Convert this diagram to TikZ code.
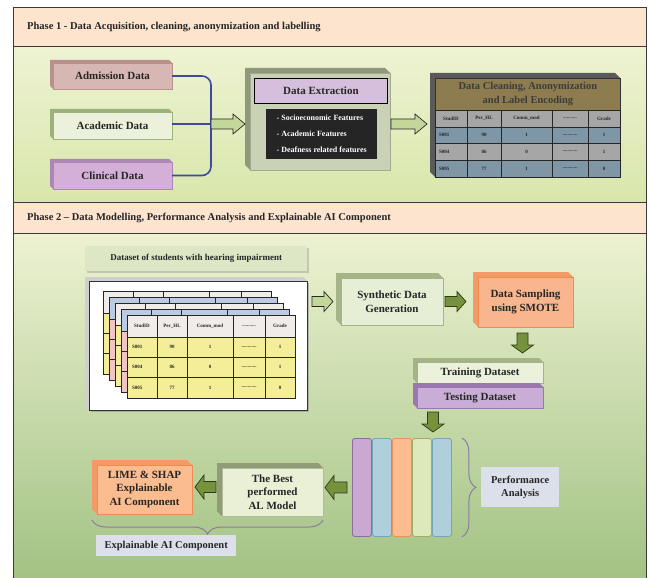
\documentclass[tikz,border=0pt]{standalone}
\usepackage{fontspec}
\setmainfont{Liberation Serif}
\usetikzlibrary{calc,decorations.pathreplacing,shadows}
\definecolor{hdr}{HTML}{FDE4CF}
\definecolor{framec}{HTML}{3A3A3A}
\definecolor{ponetop}{HTML}{EEF3D3}
\definecolor{ponebot}{HTML}{D8E6AA}
\definecolor{ptwotop}{HTML}{EDF2D2}
\definecolor{ptwobot}{HTML}{A2C283}
\definecolor{txt}{HTML}{262626}
\definecolor{admf}{HTML}{D7B7B3}
\definecolor{adms}{HTML}{B8918D}
\definecolor{acaf}{HTML}{ECF1DB}
\definecolor{acas}{HTML}{9DB17C}
\definecolor{clif}{HTML}{D4B0D8}
\definecolor{clis}{HTML}{AC86B4}
\definecolor{connblue}{HTML}{3F4A9E}
\definecolor{arrlight}{HTML}{C4D79B}
\definecolor{arrolive}{HTML}{76923C}
\definecolor{arrdark}{HTML}{2F3A18}
\definecolor{extf}{HTML}{CAD2B6}
\definecolor{exts}{HTML}{8E997C}
\definecolor{purpf}{HTML}{D5BFDC}
\definecolor{blackbox}{HTML}{252525}
\definecolor{tblgray}{HTML}{A6A6A6}
\definecolor{tblside}{HTML}{5A5A5A}
\definecolor{tblhead}{HTML}{8C7C4F}
\definecolor{tblblue}{HTML}{7F96A6}
\definecolor{dslbl}{HTML}{DDE7C5}
\definecolor{stackside}{HTML}{CFCFCF}
\definecolor{theadgray}{HTML}{EFECE9}
\definecolor{theadblue}{HTML}{BACBE2}
\definecolor{tyellow}{HTML}{F5EE99}
\definecolor{tpink}{HTML}{F2C5C4}
\definecolor{synf}{HTML}{E6EED5}
\definecolor{syns}{HTML}{A5B588}
\definecolor{smotef}{HTML}{F9B58D}
\definecolor{smotes}{HTML}{F39A66}
\definecolor{smoted}{HTML}{EE8B50}
\definecolor{trainf}{HTML}{ECF1DC}
\definecolor{trains}{HTML}{A3B487}
\definecolor{testf}{HTML}{C9ADD7}
\definecolor{tests}{HTML}{9A78AF}
\definecolor{barpurple}{HTML}{C9A9D2}
\definecolor{barpurpled}{HTML}{8F6D9F}
\definecolor{barblue}{HTML}{AFCFDC}
\definecolor{barblued}{HTML}{72A6BA}
\definecolor{barorange}{HTML}{FBBD8F}
\definecolor{barorangedk}{HTML}{EB9158}
\definecolor{bargreen}{HTML}{DDE9BA}
\definecolor{bargreend}{HTML}{9BAF6B}
\definecolor{bracecol}{HTML}{8B7CA4}
\definecolor{infobg}{HTML}{DCE0EA}
\definecolor{bestf}{HTML}{E9F0D6}
\definecolor{bests}{HTML}{8F9C74}

% cube box: #1 name, #2 x, #3 y, #4 w, #5 h, #6 depth, #7 face style, #8 side colour, #9 text
\newcommand{\cubebox}[9]{%
  \fill[#8] (#2,#3) -- ({#2+#4-#6},#3) -- ({#2+#4},{#3+#6}) -- ({#2+#6},{#3+#6})
     -- ({#2+#6},{#3+#5}) -- (#2,{#3+#5-#6}) -- cycle;
  \node[#7, anchor=north west, minimum width={(#4-#6)*1pt}, minimum height={(#5-#6)*1pt},
        inner sep=0pt, outer sep=0pt] (#1) at ({#2+#6},{#3+#6}) {#9};
}
% block arrows: #1 style, #2 from, #3 to, #4 half body, #5 half head, #6 head length
\newcommand{\rarrow}[6]{\path[#1] let \p1=#2, \p2=#3 in
  (\x1,\y1+#4) -- (\x2-#6,\y1+#4) -- (\x2-#6,\y1+#5) -- (\x2,\y1) -- (\x2-#6,\y1-#5)
  -- (\x2-#6,\y1-#4) -- (\x1,\y1-#4) -- cycle;}
\newcommand{\larrow}[6]{\path[#1] let \p1=#2, \p2=#3 in
  (\x1,\y1+#4) -- (\x2+#6,\y1+#4) -- (\x2+#6,\y1+#5) -- (\x2,\y1) -- (\x2+#6,\y1-#5)
  -- (\x2+#6,\y1-#4) -- (\x1,\y1-#4) -- cycle;}
\newcommand{\darrow}[6]{\path[#1] let \p1=#2, \p2=#3 in
  (\x1-#4,\y1) -- (\x1-#4,\y2+#6) -- (\x1-#5,\y2+#6) -- (\x1,\y2) -- (\x1+#5,\y2+#6)
  -- (\x1+#4,\y2+#6) -- (\x1+#4,\y1) -- cycle;}
% student table grid: #1 x, #2 y, #3 head fill, #4 row fill
\newcommand{\minitable}[4]{%
\begin{scope}[shift={(#1,#2)}]
  \fill[#3] (0,0) rectangle (168,22);
  \fill[#4] (0,22) rectangle (168,83);
  \draw[cellline] (0,0) rectangle (168,83);
  \foreach \yy in {22,42,62} {\draw[cellline] (0,\yy) -- (168,\yy);}
  \foreach \xx in {30,60,106,138} {\draw[cellline] (\xx,0) -- (\xx,83);}
\end{scope}}

\tikzset{
  lbl/.style={font=\bfseries\fontsize{11}{13.5}\selectfont, text=txt, align=center},
  phase/.style={font=\bfseries\fontsize{10.5}{12}\selectfont, text=txt, inner sep=0pt},
  conn/.style={draw=connblue, line width=1.6pt},
  hollow/.style={fill=arrlight, draw=black!85, line width=0.7pt},
  solidarr/.style={fill=arrolive, draw=arrdark, line width=0.7pt},
  cellline/.style={draw=black!85, line width=0.6pt},
  cell/.style={font=\bfseries\fontsize{5}{6}\selectfont, text=txt, inner sep=0pt},
  bracec/.style={draw=bracecol, line width=1pt, decorate, decoration={brace, amplitude=14pt}},
  infobox/.style={fill=infobg, font=\bfseries\fontsize{10.5}{13}\selectfont, text=txt, align=center, inner sep=0pt},
  bar/.style={minimum width=19pt, minimum height=98pt, rounded corners=2.5pt, line width=0.9pt, inner sep=0pt, anchor=north west}
}

\begin{document}
\begin{tikzpicture}[x=1pt,y=-1pt]
\useasboundingbox (0,0) rectangle (649,578);
% ---------- frame ----------
\fill[hdr] (13,8) rectangle (646,47);
\shade[top color=ponetop,bottom color=ponebot] (13,47) rectangle (646,202);
\fill[hdr] (13,202) rectangle (646,233);
\shade[top color=ptwotop,bottom color=ptwobot] (13,233) rectangle (646,580);
\draw[framec, line width=1pt] (13,580) -- (13,8) -- (646,8) -- (646,580);
\draw[framec, line width=1pt] (13,47) -- (646,47) (13,202) -- (646,202) (13,233) -- (646,233);
\node[phase, anchor=west] (ph1) at (27,27.5) {Phase 1 - Data Acquisition, cleaning, anonymization and labelling};
\node[phase, anchor=west] (ph2) at (27,218) {Phase 2 – Data Modelling, Performance Analysis and Explainable AI Component};

% ---------- phase 1 ----------
\cubebox{adm}{50}{60}{122}{29}{3}{lbl, fill=admf, draw=adms, line width=0.6pt}{adms}{Admission Data}
\cubebox{acad}{50}{109}{122}{30}{3}{lbl, fill=acaf, draw=acas, line width=0.6pt}{acas}{Academic Data}
\cubebox{clin}{50}{159}{122}{30}{3}{lbl, fill=clif, draw=clis, line width=0.6pt}{clis}{Clinical Data}
\coordinate (jn) at (211,124);
\draw[conn, rounded corners=9pt] (adm.east) -| (jn);
\draw[conn, rounded corners=9pt] (clin.east) -| (jn);
\draw[conn] (acad.east |- jn) -- (jn);

\cubebox{ext}{245}{68}{145}{102}{5}{fill=extf, draw=extf!80!black, line width=0.5pt}{exts}{}
\node[lbl, fill=purpf, draw=black, line width=0.8pt, minimum width=133pt, minimum height=25pt,
      anchor=north west, inner sep=0pt] (extt) at (254,78) {Data Extraction};
\node[fill=blackbox, text=white, font=\bfseries\fontsize{8}{16}\selectfont, align=left,
      minimum width=111pt, minimum height=50pt, anchor=north west, inner sep=0pt] (feat) at (266,109)
      {- Socioeconomic Features\\- Academic Features\\- Deafness related features};

\rarrow{hollow}{(jn)}{($(ext.west)+(-5,0)$)}{5pt}{10pt}{12pt}
\rarrow{hollow}{($(ext.east)+(1,2.5)$)}{($(ext.east)+(37,0)$)}{5pt}{10pt}{12pt}

% cleaning table
\cubebox{tbl}{430}{73}{190}{104}{5}{fill=tblgray, draw=black!80, line width=0.8pt}{tblside}{}
\node[fill=tblhead, draw=black!80, line width=0.8pt, minimum width=185pt, minimum height=32pt,
      anchor=north west, inner sep=0pt, font=\bfseries\fontsize{10.5}{14}\selectfont, text=txt!90, align=center]
      (tblh) at (435,78) {Data Cleaning, Anonymization\\and Label Encoding};
\fill[tblblue] (435,127) rectangle (620,143);
\fill[tblblue] (435,160) rectangle (620,177);
\draw[cellline] (435,110) rectangle (620,177);
\foreach \yy in {127,143,160} {\draw[cellline] (435,\yy) -- (620,\yy);}
\foreach \xx in {467,501,552,588} {\draw[cellline] (\xx,110) -- (\xx,177);}
\foreach \cx/\t [count=\i] in {451/StudID,484/Per\_HL,526.5/Comm\_mod,570/{...........},604/Grade}
  {\node[cell] (ph\i) at (\cx,118.5) {\t};}
\foreach \ry/\a/\b/\c/\e [count=\i] in {135/S001/90/1/1,151.5/S004/86/0/1,168.5/S005/77/1/0} {
  \node[cell, anchor=west] (pr\i-a) at (439,\ry) {\a};
  \node[cell] (pr\i-b) at (484,\ry) {\b};
  \node[cell] (pr\i-c) at (526.5,\ry) {\c};
  \node[cell] (pr\i-d) at (570,\ry) {............};
  \node[cell] (pr\i-e) at (604,\ry) {\e};}

% ---------- phase 2 ----------
\node[fill=dslbl, minimum width=222pt, minimum height=25pt, anchor=north west, inner sep=0pt,
      drop shadow={shadow xshift=1.5pt, shadow yshift=-1.5pt, opacity=0.35},
      font=\bfseries\fontsize{9}{11}\selectfont, text=txt] (dsl) at (85,246)
      {Dataset of students with hearing impairment};
\cubebox{stack}{85}{277}{222}{133}{4}{fill=white, draw=black!80, line width=0.8pt,
      drop shadow={shadow xshift=1.5pt, shadow yshift=-2pt, opacity=0.45}}{stackside}{}
\minitable{103}{291}{theadgray}{tyellow}
\minitable{109}{297}{theadblue}{tpink}
\minitable{115}{303}{theadgray}{tyellow}
\minitable{121}{309}{theadblue}{tpink}
\minitable{127}{315}{theadgray}{tyellow}
\begin{scope}[shift={(127,315)}]
  \foreach \cx/\t [count=\i] in {15/StudID,45/Per\_HL,83/Comm\_mod,122/{...........},153/Grade}
    {\node[cell] (th\i) at (\cx,11) {\t};}
  \foreach \ry/\a/\b/\c/\e [count=\i] in {32/S001/90/1/1,52/S004/86/0/1,72.5/S005/77/1/0} {
    \node[cell, anchor=west] (tr\i-a) at (5,\ry) {\a};
    \node[cell] (tr\i-b) at (45,\ry) {\b};
    \node[cell] (tr\i-c) at (83,\ry) {\c};
    \node[cell] (tr\i-d) at (122,\ry) {............};
    \node[cell] (tr\i-e) at (153,\ry) {\e};}
\end{scope}

\cubebox{syn}{336}{273}{107}{52}{5}{lbl, fill=synf, draw=syns, line width=0.6pt}{syns}{Synthetic Data\\Generation}
\cubebox{smote}{473}{272}{100}{55}{5}{lbl, fill=smotef, draw=smoted, line width=0.8pt}{smotes}{Data Sampling\\using SMOTE}
\rarrow{hollow}{($(syn.west -| stack.east)+(5,0)$)}{($(syn.west)+(-8,0)$)}{5pt}{10pt}{9pt}
\rarrow{solidarr}{($(syn.east)+(2,0)$)}{($(smote.west)+(-12,0)$)}{5pt}{10pt}{9pt}

\cubebox{train}{413}{358}{130}{25}{4}{lbl, fill=trainf, draw=trains, line width=0.6pt}{trains}{Training Dataset}
\cubebox{test}{413}{383}{130}{25}{4}{lbl, fill=testf, draw=tests, line width=0.6pt}{tests}{Testing Dataset}
\darrow{solidarr}{($(smote.south)+(-3,6)$)}{($(train.north)+(0,-9)$)}{5.5pt}{11pt}{8pt}

\foreach \c/\d [count=\i] in {barpurple/barpurpled,barblue/barblued,barorange/barorangedk,bargreen/bargreend,barblue/barblued}
  {\node[bar, fill=\c, draw=\d] (bar\i) at ({352+(\i-1)*20},438) {};}
\darrow{solidarr}{($(test.south west)+(16,4)$)}{($(bar5.north west)+(1,-6)$)}{5.5pt}{11pt}{8pt}

\draw[bracec] ($(bar5.north east)+(10,0)$) -- ($(bar5.south east)+(10,0)$);
\node[infobox, anchor=west, minimum width=78pt, minimum height=40pt] (perf) at (481,487) {Performance\\Analysis};

\cubebox{best}{217}{463}{106}{53}{5}{lbl, fill=bestf, draw=bests!70, line width=0.6pt}{bests}{The Best\\performed\\AL Model}
\cubebox{lime}{92}{460}{100}{54}{5}{lbl, fill=barorange, draw=smoted, line width=0.8pt}{smotes}{LIME \& SHAP\\Explainable\\AI Component}
\larrow{solidarr}{($(bar1.west)+(-5,0)$)}{($(best.east)+(2,0)$)}{5.5pt}{12pt}{9pt}
\larrow{solidarr}{($(best.west)+(-6,-5)$)}{($(lime.east)+(3,0)$)}{5.5pt}{12pt}{9pt}

\draw[bracec] ($(best.south east)+(0,4)$) -- ($(lime.south west)+(-5,6)$);
\node[infobox, anchor=north west, minimum width=140pt, minimum height=21pt] (xai) at (96,535) {Explainable AI Component};
\end{tikzpicture}
\end{document}
